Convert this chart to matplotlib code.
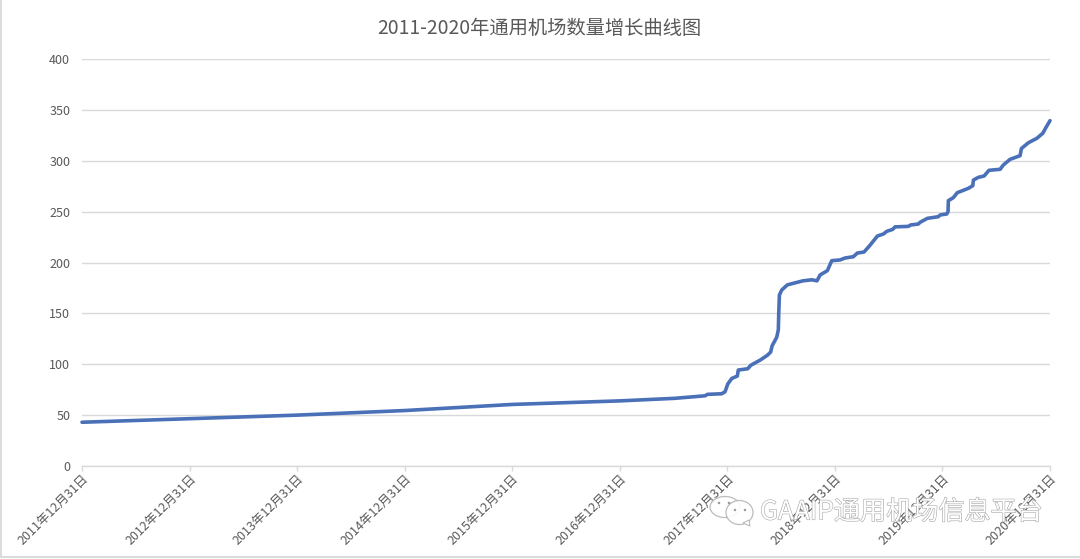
import matplotlib
matplotlib.use("Agg")
import matplotlib.pyplot as plt
import matplotlib.patheffects as pe
from matplotlib.patches import Ellipse, Rectangle, Polygon

plt.rcParams['font.family'] = ['Noto Sans CJK SC', 'DejaVu Sans']

#years counted from 2011-12-31
years = [0, 1, 2, 3, 4, 5, 5.51, 5.793, 5.814, 5.948, 5.979, 6.004, 6.041, 6.093, 6.102,
         6.19, 6.218, 6.304, 6.372, 6.403, 6.416, 6.459, 6.474, 6.478, 6.484, 6.506,
         6.558, 6.63, 6.704, 6.785, 6.834, 6.862, 6.93, 6.971, 7.048, 7.094, 7.172,
         7.209, 7.271, 7.327, 7.395, 7.451, 7.482, 7.538, 7.559, 7.683, 7.705, 7.776,
         7.792, 7.86, 7.962, 7.978, 8.04, 8.052, 8.055, 8.101, 8.138, 8.241, 8.282,
         8.288, 8.334, 8.387, 8.433, 8.536, 8.566, 8.629, 8.722, 8.734, 8.799, 8.877,
         8.933, 8.963, 9]
airports = [43, 46.5, 50, 54.5, 60.5, 64, 66.5, 69, 70.4, 71, 73, 80.6, 86, 88.4, 94.3,
            95.6, 99, 104, 108.8, 112, 118, 126.5, 133.7, 150, 168, 173,
            178, 180, 182, 183, 182, 187.7, 192, 201.8, 202.5, 204.4, 205.7,
            209.3, 210.3, 217, 226, 228, 230.6, 232.6, 235, 235.5, 236.9, 237.8,
            239.5, 243.4, 245, 246.7, 247.7, 250, 260.8, 263.7, 268.6, 272.9, 275.5,
            281, 283.7, 285, 290.6, 291.6, 295.8, 301.4, 305, 312, 317.7, 322,
            327, 332.8, 339.4]
tick_labels = ['2011年12月31日', '2012年12月31日', '2013年12月31日', '2014年12月31日', '2015年12月31日',
               '2016年12月31日', '2017年12月31日', '2018年12月31日', '2019年12月31日', '2020年12月31日']
y_ticks = [0, 50, 100, 150, 200, 250, 300, 350, 400]

W, H = 1080, 559
text_col = '#595959'
grid_col = '#d9d9d9'

fig = plt.figure(figsize=(W/100, H/100), dpi=100)
ax = fig.add_axes([82/W, 1-466/H, 968/W, 407/H])

ax.plot(years, airports, color='#4a70b8', lw=2.6, solid_joinstyle='round', solid_capstyle='round', clip_on=False, zorder=3)

ax.set_xlim(0, 9)
ax.set_ylim(0, 400)
ax.set_yticks(y_ticks)
ax.set_xticks(range(len(tick_labels)))
ax.set_xticklabels(tick_labels, rotation=45, ha='right', va='top', rotation_mode='anchor')
ax.tick_params(axis='x', length=3.5, width=1, color=grid_col, labelsize=9, labelcolor=text_col, pad=1)
ax.tick_params(axis='y', length=0, labelsize=9, labelcolor=text_col, pad=8.5)
ax.grid(axis='y', color=grid_col, lw=1)
ax.set_axisbelow(True)
for s in ['top', 'right', 'left']:
    ax.spines[s].set_visible(False)
ax.spines['bottom'].set_color(grid_col)
ax.spines['bottom'].set_linewidth(1)

fig.text(539/W, 1-28/H, '2011-2020年通用机场数量增长曲线图', ha='center', va='center', fontsize=13.9, color=text_col)

#watermark, drawn in pixel coordinates of the figure
over = fig.add_axes([0, 0, 1, 1], facecolor='none')
over.set_xlim(0, W)
over.set_ylim(H, 0)
over.axis('off')
over.text(760, 512, 'GAAIP通用机场信息平台', fontsize=18.8, color='white', ha='left', va='center',
          path_effects=[pe.withStroke(linewidth=0.8, foreground='#a5a5a5')], zorder=5)
for cx, cy, w, h in [(725, 507, 30, 21), (739.5, 512.5, 27, 24)]:
    over.add_patch(Ellipse((cx, cy), w, h, fc='white', ec='#b5b5b5', lw=0.9, alpha=0.9, zorder=4))
over.add_patch(Polygon([[743, 523], [750, 526], [749, 520]], fc='white', ec='#b5b5b5', lw=0.7, zorder=4))
for cx, cy in [(719, 503), (729, 503), (735, 510), (745, 510)]:
    over.add_patch(Ellipse((cx, cy), 2.5, 2.5, fc='#9a9a9a', ec='none', zorder=5))

#image frame
over.add_patch(Rectangle((0.5, -2), W+1, H+0.5-0.5, fc='none', ec='#dcdcdc', lw=1.5, clip_on=True))

fig.savefig('out.png', dpi=100)
